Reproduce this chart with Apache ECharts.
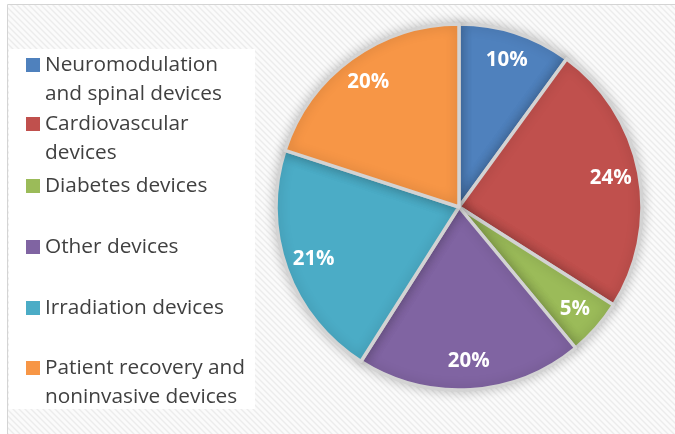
<!DOCTYPE html>
<html>
<head>
<meta charset="utf-8">
<script src="https://cdn.jsdelivr.net/npm/echarts@6/dist/echarts.min.js"></script>
<style>
html,body{margin:0;padding:0;background:#fff;}
#chart{width:675px;height:434px;}
</style>
</head>
<body>
<div id="chart"></div>
<script>
// ---- data ----
const categories = [
  'Neuromodulation and spinal devices',
  'Cardiovascular devices',
  'Diabetes devices',
  'Other devices',
  'Irradiation devices',
  'Patient recovery and noninvasive devices'
];
const legendLabels = [
  'Neuromodulation\nand spinal devices',
  'Cardiovascular\ndevices',
  'Diabetes devices',
  'Other devices',
  'Irradiation devices',
  'Patient recovery and\nnoninvasive devices'
];
const shares = [10, 24, 5, 20, 21, 20];
const colors = ['#4F81BD', '#C0504D', '#9BBB59', '#8064A2', '#4BACC6', '#F79646'];

// ---- background pattern ----
const pc = document.createElement('canvas');
pc.width = 6; pc.height = 6;
const g = pc.getContext('2d');
g.fillStyle = '#fbfbfb'; g.fillRect(0, 0, 6, 6);
g.strokeStyle = '#ececec'; g.lineWidth = 1.4;
g.beginPath(); g.moveTo(-1, -1); g.lineTo(7, 7); g.moveTo(-1, 5); g.lineTo(1, 7); g.moveTo(5, -1); g.lineTo(7, 1); g.stroke();

const chart = echarts.init(document.getElementById('chart'), null, {renderer: 'canvas'});

const iconCenters = [65, 124, 186, 247, 308, 368];
const lineH = 29;
const legends = categories.map((c, i) => {
  const lab = legendLabels[i];
  const multi = lab.indexOf('\n') >= 0;
  const h = (multi ? 3 : 1) * lineH;
  return {
    data: [c],
    orient: 'vertical',
    left: 26,
    top: iconCenters[i] - h / 2,
    padding: 0,
    icon: 'rect',
    itemWidth: 14,
    itemHeight: 14,
    itemStyle: {borderWidth: 0, shadowBlur: 0},
    formatter: () => multi ? '\n' + lab : lab,
    textStyle: {
      fontFamily: 'Open Sans',
      fontSize: 20.8,
      color: '#404040',
      lineHeight: lineH
    }
  };
});

const pieData = categories.map((c, i) => ({name: c, value: shares[i], itemStyle: {color: colors[i]}}));

chart.setOption({
  backgroundColor: '#ffffff',
  animation: false,
  color: colors,
  graphic: [
    {type: 'rect', z: -10, silent: true, shape: {x: 7.5, y: 4.5, width: 700, height: 500},
     style: {fill: {image: pc, repeat: 'repeat'}, stroke: '#d4d4d4', lineWidth: 1}},
    {type: 'rect', z: -9, silent: true, shape: {x: 9, y: 49, width: 246, height: 360},
     style: {fill: '#ffffff'}}
  ],
  legend: legends,
  series: [
    {
      type: 'pie',
      center: [459, 207],
      radius: [0, 183],
      startAngle: 90,
      clockwise: true,
      label: {show: false},
      labelLine: {show: false},
      itemStyle: {
        borderColor: '#d3d3d3',
        borderWidth: 3.5,
        shadowBlur: 12,
        shadowColor: 'rgba(0,0,0,0.22)'
      },
      emphasis: {disabled: true},
      data: pieData
    },
    {
      type: 'pie',
      center: [459, 207],
      radius: [120, 183],
      startAngle: 90,
      clockwise: true,
      silent: true,
      z: 5,
      itemStyle: {color: 'rgba(0,0,0,0)', borderWidth: 0},
      label: {
        show: true,
        position: 'inside',
        formatter: p => p.value + '%',
        color: '#ffffff',
        fontFamily: 'Open Sans',
        fontWeight: 'bold',
        fontSize: 20.5
      },
      labelLine: {show: false},
      emphasis: {disabled: true},
      data: categories.map((c, i) => ({name: c, value: shares[i]}))
    }
  ]
});
</script>
</body>
</html>
